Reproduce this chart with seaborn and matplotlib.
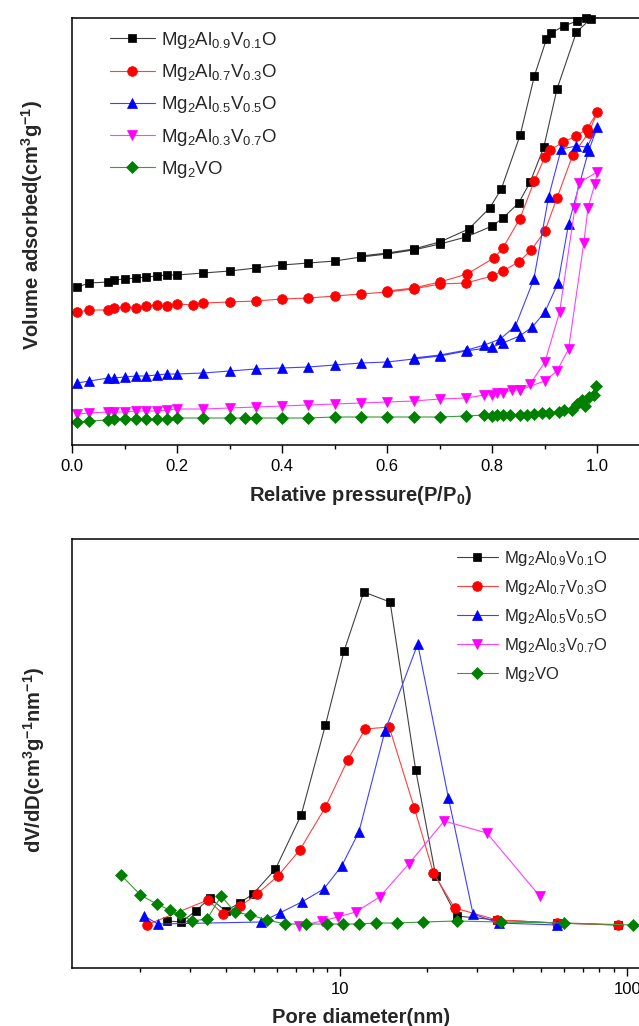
import numpy as np
import pandas as pd
import matplotlib
matplotlib.use('Agg')
import matplotlib.pyplot as plt
import seaborn as sns
from matplotlib.ticker import MultipleLocator, FixedLocator, FixedFormatter, NullFormatter, LogLocator

# ---------------- data ----------------
labels = [r'Mg$_2$Al$_{0.9}$V$_{0.1}$O', r'Mg$_2$Al$_{0.7}$V$_{0.3}$O',
          r'Mg$_2$Al$_{0.5}$V$_{0.5}$O', r'Mg$_2$Al$_{0.3}$V$_{0.7}$O', r'Mg$_2$VO']

# isotherms (relative pressure, volume adsorbed, arbitrary units) : adsorption then desorption
p_ads_a = [0.01,0.033,0.069,0.079,0.10,0.122,0.141,0.161,0.18,0.20,0.25,0.30,0.35,0.40,0.45,0.50,0.55,0.60,0.65,0.70,0.75,0.80,0.82,0.85,0.872,0.898,0.923,0.96,0.987]
v_ads_a = [158,162,163,165,166,167,168,169,170,170,172,174,177,180,182,184,188,191,195,201,208,219,227,242,263,298,356,413,426]
p_des_a = [0.979,0.961,0.936,0.912,0.903,0.88,0.853,0.817,0.795,0.755,0.70,0.65,0.60,0.55]
v_des_a = [427,424,419,412,406,369,310,256,237,216,203,196,192,189]

p_ads_b = [0.01,0.033,0.069,0.079,0.10,0.122,0.141,0.161,0.18,0.20,0.231,0.25,0.30,0.35,0.40,0.45,0.50,0.55,0.60,0.65,0.70,0.75,0.80,0.82,0.85,0.874,0.90,0.923,0.953,0.983,1.0]
v_ads_b = [133,135,135,137,138,137,139,140,139,141,140,142,143,144,146,147,149,151,153,156,161,162,169,174,183,195,214,247,290,312,333]
p_des_b = [0.98,0.96,0.935,0.91,0.90,0.88,0.852,0.82,0.803,0.752,0.70,0.65,0.60]
v_des_b = [316,309,303,295,288,264,226,197,187,171,163,157,154]

p_ads_c = [0.01,0.033,0.069,0.079,0.10,0.122,0.141,0.161,0.18,0.20,0.25,0.30,0.35,0.40,0.45,0.50,0.55,0.60,0.65,0.70,0.75,0.80,0.82,0.852,0.876,0.90,0.925,0.945,0.983,1.0]
v_ads_c = [62,64,67,67,68,69,69,70,71,71,72,74,76,77,78,80,82,83,86,89,94,98,102,109,118,133,162,221,294,318]
p_des_c = [0.98,0.96,0.931,0.907,0.879,0.844,0.815,0.785,0.752,0.70,0.65]
v_des_c = [298,299,296,248,166,119,106,100,95,90,87]

p_ads_d = [0.01,0.033,0.069,0.079,0.10,0.122,0.141,0.161,0.18,0.20,0.25,0.30,0.35,0.40,0.45,0.50,0.55,0.60,0.65,0.70,0.75,0.785,0.80,0.809,0.82,0.837,0.852,0.90,0.923,0.945,0.974,0.982,0.995,1.0]
v_ads_d = [31,32,33,33,33,34,34,34,35,36,36,37,38,39,40,41,42,43,44,46,47,50,50,52,52,55,55,64,74,96,202,237,261,273]
p_des_d = [0.964,0.957,0.928,0.90,0.872,0.852]
v_des_d = [262,237,133,83,61,55]

p_ads_e = [0.01,0.033,0.069,0.079,0.10,0.122,0.141,0.161,0.18,0.20,0.25,0.30,0.33,0.35,0.40,0.45,0.50,0.55,0.60,0.65,0.70,0.75,0.785,0.80,0.809,0.82,0.834,0.852,0.866,0.879,0.895,0.907,0.926,0.936,0.952,0.977,0.998]
v_ads_e = [23,24,25,26,26,26,26,26,26,27,27,27,27,27,27,27,28,28,28,28,28,29,30,29,30,30,30,30,30,31,32,32,33,35,35,39,59]
p_des_e = [0.993,0.983,0.971,0.961]
v_des_e = [50,48,45,41]

# pore size distributions (pore diameter nm, dV/dD arbitrary units)
d_a = [2.49,2.79,3.13,3.51,3.98,4.45,4.96,5.94,7.30,8.87,10.3,12.06,14.9,18.3,21.5,25.4,35.2,56.9,92.5]
w_a = [47,46,57,70,57,65,74,99,153,243,317,376,366,198,92,52,48,45,43]
d_b = [2.11,3.45,3.90,4.48,5.13,6.05,7.22,8.87,10.6,12.2,14.8,18.1,21.1,25.0,35.2,56.9,92.5]
w_b = [43,68,54,62,74,92,118,161,208,239,241,160,95,60,48,45,43]
d_c = [2.07,2.31,5.29,6.14,7.33,8.75,10.1,11.6,14.3,18.6,23.8,29.0,35.6,56.9]
w_c = [52,44,46,55,66,79,102,136,237,324,170,54,45,43]
d_d = [7.20,8.6,9.79,11.3,13.7,17.3,23.0,32.4,49.5]
w_d = [42,47,51,56,71,104,147,135,72]
d_e = [1.72,2.01,2.29,2.54,2.75,3.04,3.43,3.84,4.29,4.86,5.55,6.43,7.60,8.96,10.2,11.6,13.3,15.8,19.4,25.4,36.3,60.3,104.7]
w_e = [93,73,64,58,54,47,49,72,56,53,48,44,44,44,44,44,45,45,46,47,46,45,43]

xticks_top = [0.0, 0.2, 0.4, 0.6, 0.8, 1.0]
xticks_bot = [10, 100]
xticklabels_bot = ['10', '100']

# ---------------- style ----------------
sns.set_theme(style='ticks')
plt.rcParams['font.family'] = ['Liberation Sans', 'DejaVu Sans']
plt.rcParams['mathtext.default'] = 'regular'
plt.rcParams['axes.linewidth'] = 1.1

colors = ['#000000', '#ff0000', '#0000ff', '#ff00ff', '#008000']
linecolors = ['#404040', '#ff4040', '#4040ff', '#ff40ff', '#3a9a3a']
markers = ['s', 'o', '^', 'v', 'D']
msizes = [6.3, 7, 7.5, 7.5, 6.5]

iso = [(p_ads_a, v_ads_a, p_des_a, v_des_a), (p_ads_b, v_ads_b, p_des_b, v_des_b),
       (p_ads_c, v_ads_c, p_des_c, v_des_c), (p_ads_d, v_ads_d, p_des_d, v_des_d),
       (p_ads_e, v_ads_e, p_des_e, v_des_e)]
psd = [(d_a, w_a), (d_b, w_b), (d_c, w_c), (d_d, w_d), (d_e, w_e)]

fig = plt.figure(figsize=(6.39, 10.26), dpi=100)
ax1 = fig.add_axes([72/639, 1-445/1026, 578/639, 427/1026])
ax2 = fig.add_axes([72/639, 1-968/1026, 578/639, 429/1026])

for i, (pa, va, pd_, vd) in enumerate(iso):
    df = pd.DataFrame({'p': list(pa) + list(pd_), 'v': list(va) + list(vd)})
    sns.lineplot(data=df, x='p', y='v', sort=False, estimator=None, ax=ax1,
                 color=linecolors[i], linewidth=0.8, marker=markers[i], markersize=msizes[i],
                 markerfacecolor=colors[i], markeredgecolor=colors[i], markeredgewidth=0.5,
                 label=labels[i], clip_on=False)

for i, (d, w) in enumerate(psd):
    df = pd.DataFrame({'d': d, 'w': w})
    sns.lineplot(data=df, x='d', y='w', sort=False, estimator=None, ax=ax2,
                 color=linecolors[i], linewidth=0.8, marker=markers[i], markersize=msizes[i],
                 markerfacecolor=colors[i], markeredgecolor=colors[i], markeredgewidth=0.5,
                 label=labels[i], clip_on=False)

# top axes
ax1.set_xlim(0, 1.1)
ax1.set_ylim(0, 427)
ax1.xaxis.set_major_locator(FixedLocator(xticks_top))
ax1.xaxis.set_major_formatter(FixedFormatter(['%.1f' % t for t in xticks_top]))
ax1.xaxis.set_minor_locator(MultipleLocator(0.1))
ax1.set_yticks([])
ax1.set_xlabel('Relative pressure(P/P$_0$)', fontsize=14.5, fontweight='bold', labelpad=7)
ax1.set_ylabel('Volume adsorbed(cm$^3$g$^{-1}$)', fontsize=14.5, fontweight='bold')
ax1.yaxis.set_label_coords(-0.046, (445-225)/427)

# bottom axes
ax2.set_xscale('log')
ax2.set_xlim(1.16, 120)
ax2.set_ylim(0, 429)
ax2.xaxis.set_major_locator(FixedLocator(xticks_bot))
ax2.xaxis.set_major_formatter(FixedFormatter(xticklabels_bot))
ax2.xaxis.set_minor_locator(LogLocator(base=10, subs=np.arange(2, 10)))
ax2.xaxis.set_minor_formatter(NullFormatter())
ax2.set_yticks([])
ax2.set_xlabel('Pore diameter(nm)', fontsize=14.5, fontweight='bold', labelpad=8)
ax2.set_ylabel('dV/dD(cm$^3$g$^{-1}$nm$^{-1}$)', fontsize=14.5, fontweight='bold')
ax2.yaxis.set_label_coords(-0.044, (968-760)/429)

for ax in (ax1, ax2):
    for s in ax.spines.values():
        s.set_color('black')
        s.set_linewidth(1.1)
    ax.tick_params(axis='x', which='major', direction='out', length=6, width=1.0,
                   labelsize=12, pad=4, color='black', labelcolor='black')
    ax.tick_params(axis='x', which='minor', direction='out', length=3, width=1.0, color='black')

ax1.legend(loc='upper left', bbox_to_anchor=((110-72)/578, (445-30)/427), frameon=False,
           fontsize=13.4, handlelength=2.4, handletextpad=0.35, labelspacing=0.6,
           borderaxespad=0, borderpad=0)
ax2.legend(loc='upper left', bbox_to_anchor=((457-72)/578, (968-549)/429), frameon=False,
           fontsize=12, handlelength=2.45, handletextpad=0.35, labelspacing=0.6,
           borderaxespad=0, borderpad=0)

fig.savefig('out.png', dpi=100)
